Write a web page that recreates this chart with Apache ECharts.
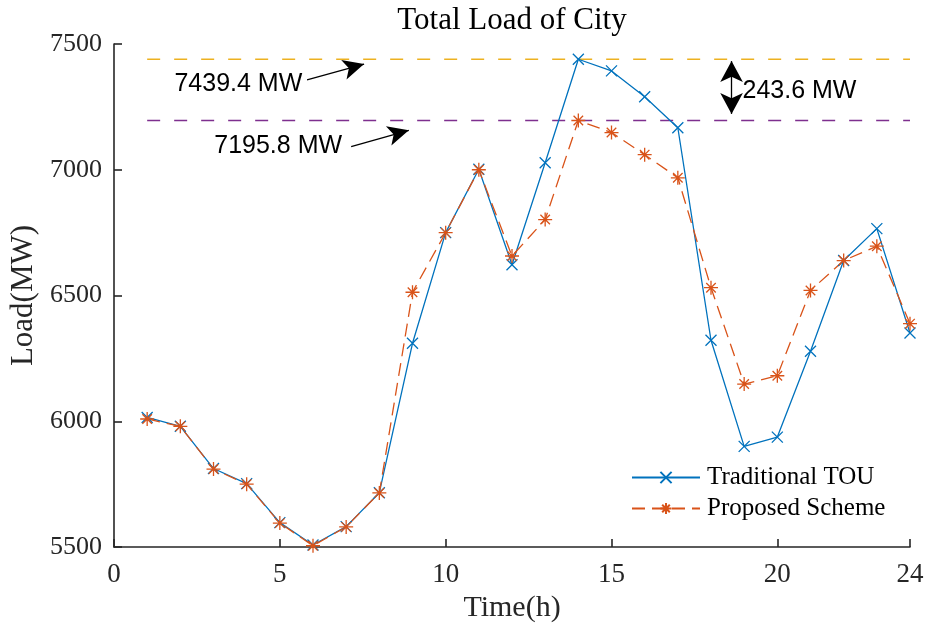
<!DOCTYPE html>
<html>
<head>
<meta charset="utf-8">
<script src="https://cdn.jsdelivr.net/npm/echarts@6/dist/echarts.min.js"></script>
<style>html,body{margin:0;padding:0;background:#fff}#c{width:926px;height:627px}</style>
</head>
<body>
<div id="c"></div>
<script>
const hours = [1,2,3,4,5,6,7,8,9,10,11,12,13,14,15,16,17,18,19,20,21,22,23,24];
const traditionalTOU = [6015,5980,5812,5752,5597,5508,5581,5716,6310,6750,7002,6622,7028,7439.4,7393,7290,7167,6322,5900,5937,6278,6639,6766,6351];
const proposedScheme = [6009,5980,5810,5750,5595,5505,5580,5715,6513,6750,7000,6657,6802,7195.8,7148,7060,6968,6531,6148,6181,6520,6639,6696,6388];
const peakTOU = 7439.4;
const peakProposed = 7195.8;
const refLineStartEnd = [1, 24];
const xTicks = [0, 24, 5];
const yTicks = [5500, 7500, 500];
// annotation anchors in data coordinates
const arrowPeakTOU = [[5.82, 7357], [7.54, 7420]];
const arrowPeakProposed = [[7.15, 7092], [8.89, 7157]];
const diffArrow = [[18.62, 7222], [18.62, 7432]];
const labelPeakTOU = [3.75, 7341];
const labelPeakProposed = [4.95, 7095];
const labelDiff = [18.95, 7314];

const blue = '#0072BD', orange = '#D95319';
const serif = 'Liberation Serif', sans = 'Liberation Sans';
const crossSym = 'path://M0,0L10,10M10,0L0,10';
const starSym = 'path://M5,0L5,10M0,5L10,5M1.6,1.6L8.4,8.4M8.4,1.6L1.6,8.4';

const chart = echarts.init(document.getElementById('c'), null, {renderer: 'canvas'});
const axisColor = '#262626';
const fmt = v => (Math.round(v * 10) / 10).toFixed(1) + ' MW';

chart.setOption({
  animation: false,
  backgroundColor: '#fff',
  title: {
    text: 'Total Load of City', left: 512, top: 5, textAlign: 'center', padding: 0,
    textStyle: {fontFamily: serif, fontSize: 31, fontWeight: 'normal', color: '#000'}
  },
  grid: {left: 114, right: 16, top: 44, bottom: 80, containLabel: false, outerBoundsMode: 'none'},
  legend: {
    orient: 'vertical', left: 631, top: 465, itemWidth: 68, itemHeight: 14, itemGap: 6, padding: 0,
    data: ['Traditional TOU', 'Proposed Scheme'],
    textStyle: {fontFamily: serif, fontSize: 25, color: '#000', padding: [0,0,0,2]}
  },
  xAxis: {
    type: 'value', min: xTicks[0], max: xTicks[1], interval: xTicks[2],
    name: 'Time(h)', nameLocation: 'middle', nameGap: 40,
    nameTextStyle: {fontFamily: serif, fontSize: 30, color: '#262626'},
    axisLine: {show: true, lineStyle: {color: axisColor, width: 1.6}},
    axisTick: {show: true, inside: true, length: 8, lineStyle: {color: axisColor, width: 1.6}},
    axisLabel: {fontFamily: serif, fontSize: 27, color: '#262626', margin: 14, showMaxLabel: true,
      formatter: v => String(v)},
    splitLine: {show: false}
  },
  yAxis: {
    type: 'value', min: yTicks[0], max: yTicks[1], interval: yTicks[2],
    name: 'Load(MW)', nameLocation: 'middle', nameGap: 65,
    nameTextStyle: {fontFamily: serif, fontSize: 31, color: '#262626'},
    axisLine: {show: true, lineStyle: {color: axisColor, width: 1.6}},
    axisTick: {show: true, inside: true, length: 8, lineStyle: {color: axisColor, width: 1.6}},
    axisLabel: {fontFamily: serif, fontSize: 26, color: '#262626', margin: 12,
      formatter: v => String(v)},
    splitLine: {show: false}
  },
  series: [
    {
      name: 'peakTOU', type: 'line', silent: true, symbol: 'none',
      data: refLineStartEnd.map(x => [x, peakTOU]),
      lineStyle: {color: '#EDB120', width: 1.4, type: [13, 14]}
    },
    {
      name: 'peakProposed', type: 'line', silent: true, symbol: 'none',
      data: refLineStartEnd.map(x => [x, peakProposed]),
      lineStyle: {color: '#7E2F8E', width: 1.4, type: [13, 14]}
    },
    {
      name: 'Traditional TOU', type: 'line', showAllSymbol: true,
      data: hours.map((h, i) => [h, traditionalTOU[i]]),
      symbol: crossSym, symbolSize: 11,
      lineStyle: {color: blue, width: 1.3},
      itemStyle: {color: blue, borderColor: blue, borderWidth: 1.3}
    },
    {
      name: 'Proposed Scheme', type: 'line', showAllSymbol: true,
      data: hours.map((h, i) => [h, proposedScheme[i]]),
      symbol: starSym, symbolSize: 14,
      lineStyle: {color: orange, width: 1.3, type: [13, 7]},
      itemStyle: {color: orange, borderColor: orange, borderWidth: 1.3},
      markLine: {
        silent: true, animation: false,
        label: {show: false},
        lineStyle: {color: '#000', width: 1.3, type: 'solid'},
        symbol: ['none', 'arrow'], symbolSize: [15, 21],
        data: [
          [{coord: arrowPeakTOU[0], symbol: 'none'}, {coord: arrowPeakTOU[1], symbol: 'arrow'}],
          [{coord: arrowPeakProposed[0], symbol: 'none'}, {coord: arrowPeakProposed[1], symbol: 'arrow'}],
          [{coord: diffArrow[0], symbol: 'arrow', symbolSize: [17, 21]}, {coord: diffArrow[1], symbol: 'arrow', symbolSize: [17, 21]}]
        ]
      },
      markPoint: {
        silent: true, symbol: 'circle', symbolSize: 0,
        label: {show: true, fontFamily: sans, fontSize: 25, color: '#000'},
        data: [
          {coord: labelPeakTOU, label: {formatter: fmt(peakTOU), position: 'inside'}},
          {coord: labelPeakProposed, label: {formatter: fmt(peakProposed), position: 'inside'}},
          {coord: labelDiff, label: {formatter: fmt(peakTOU - peakProposed), position: 'right', distance: 0}}
        ]
      }
    }
  ]
});
</script>
</body>
</html>
